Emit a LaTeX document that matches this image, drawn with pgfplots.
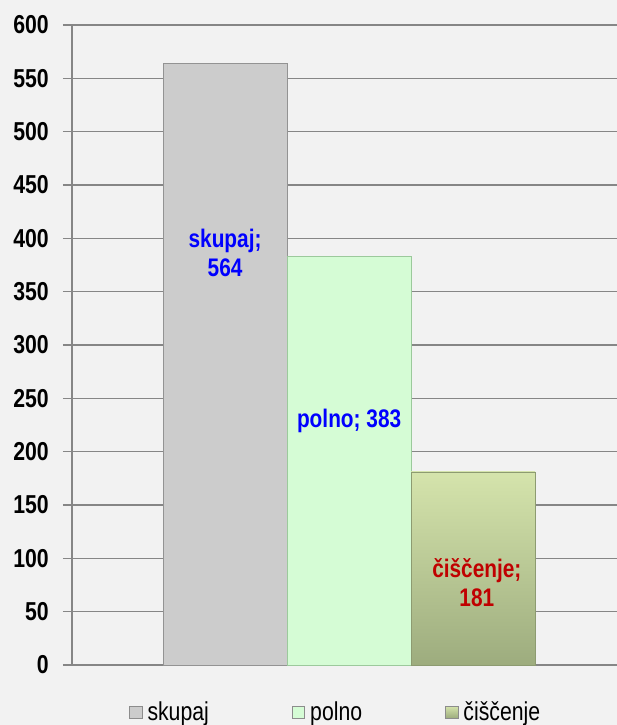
\documentclass[border=0pt]{standalone}
\usepackage{fontspec}
\setmainfont{Liberation Sans}[FakeStretch=0.82]
\usepackage{pgfplots}
\pgfplotsset{compat=1.18}

\definecolor{bg}{HTML}{F2F2F2}
\definecolor{gridc}{HTML}{868686}
\definecolor{barA}{HTML}{CCCCCC}
\definecolor{barB}{HTML}{D5FCD5}
\definecolor{barCtop}{HTML}{D5E4AC}
\definecolor{barCbot}{HTML}{9DAC7E}
\definecolor{lblblue}{HTML}{0000FF}
\definecolor{lblred}{HTML}{C00000}

\pgfplotsset{
    sq legend/.style={legend image code/.code={%
        \draw[##1, draw=gray!90, line width=0.8bp] (0bp,-6bp) rectangle (12.5bp,6bp);}},
}

\begin{document}
\begin{tikzpicture}
\fill[bg] (0,0) rectangle (617bp,725bp);
\begin{axis}[
    at={(72bp,60bp)}, anchor=south west,
    scale only axis,
    width=545bp, height=640bp,
    xmin=-1.234, xmax=3.16,
    ymin=0, ymax=600,
    enlargelimits=false,
    axis x line*=bottom,
    axis y line*=left,
    axis line style={gridc, line width=1.5bp},
    xtick=\empty,
    ytick distance=50,
    tick align=outside,
    major tick length=9bp,
    ytick style={gridc, line width=1.5bp},
    ymajorgrids,
    major grid style={gridc, line width=1.5bp},
    /pgf/number format/assume math mode=true,
    yticklabel style={font=\bfseries\fontsize{26}{30}\selectfont, inner sep=2bp, xshift=-12bp},
    axis background/.style={fill=bg},
    ybar, bar width=1, bar shift=0pt,
    legend columns=3,
    legend style={draw=none, fill=none, at={(0.1046,-0.0735)}, anchor=west,
        font=\fontsize{26}{30}\selectfont, inner sep=0pt,
        nodes={inner sep=2bp},
        /tikz/every odd column/.append style={column sep=3bp},
        /tikz/every even column/.append style={column sep=81bp}},
]
\addplot[fill=barA, draw=gray!85, sq legend] coordinates {(0,564)};
\addlegendentry{skupaj}
\addplot[fill=barB, draw=green!30!gray!60, sq legend] coordinates {(1,383)};
\addlegendentry{polno}
\addplot[top color=barCtop, bottom color=barCbot, draw=barCbot!90!black, sq legend] coordinates {(2,181)};
\addlegendentry{čiščenje}

\node[font=\bfseries\fontsize{25.5}{29}\selectfont, text=lblblue, align=center] at (axis cs:0,386) {skupaj;\\564};
\node[font=\bfseries\fontsize{25.5}{29}\selectfont, text=lblblue] at (axis cs:1,229) {polno; 383};
\node[font=\bfseries\fontsize{25.5}{29}\selectfont, text=lblred, align=center] at (axis cs:2.03,77) {čiščenje;\\181};
\end{axis}
\pgfresetboundingbox
\path[use as bounding box] (0,0) rectangle (617bp,725bp);
\end{tikzpicture}
\end{document}
